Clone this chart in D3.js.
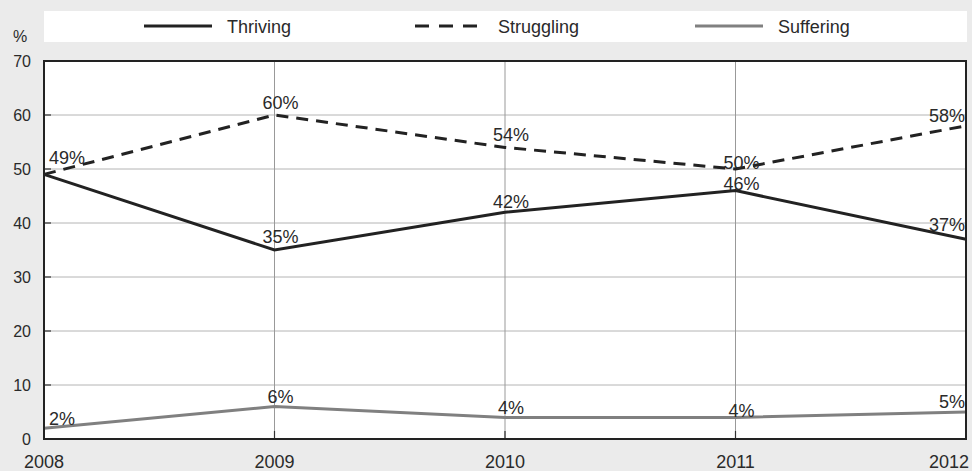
<!DOCTYPE html>
<html>
<head>
<meta charset="utf-8">
<script src="https://cdn.jsdelivr.net/npm/d3@7"></script>
<style>
  body { margin: 0; background: #ebebeb; }
  text { font-family: "Liberation Sans", Arial, sans-serif; fill: #2a2a2a; }
</style>
</head>
<body>
<div id="chart"></div>
<script>
// data
var years = ["2008", "2009", "2010", "2011", "2012"];
var thriving = [49, 35, 42, 46, 37];
var struggling = [49, 60, 54, 50, 58];
var suffering = [2, 6, 4, 4, 5];
var yTicks = [0, 10, 20, 30, 40, 50, 60, 70];

var svgWidth = 972, svgHeight = 471;
var margin = { top: 61, right: 6, bottom: 32, left: 44 };
var chartWidth = svgWidth - margin.left - margin.right;
var chartHeight = svgHeight - margin.top - margin.bottom;

var svg = d3.select("#chart").append("svg")
    .attr("width", svgWidth)
    .attr("height", svgHeight);

svg.append("rect").attr("width", svgWidth).attr("height", svgHeight).attr("fill", "#ebebeb");

var g = svg.append("g").attr("transform", `translate(${margin.left},${margin.top})`);

var x = d3.scalePoint().domain(years).range([0, chartWidth]);
var y = d3.scaleLinear().domain([0, 70]).range([chartHeight, 0]);

g.append("rect").attr("width", chartWidth).attr("height", chartHeight).attr("fill", "#fff");

// grid
g.selectAll(".hgrid").data(yTicks.slice(1, -1)).enter().append("line")
    .attr("x1", 0).attr("x2", chartWidth)
    .attr("y1", d => y(d)).attr("y2", d => y(d))
    .attr("stroke", "#b4b4b4").attr("stroke-width", 1);
g.selectAll(".vgrid").data(years.slice(1, -1)).enter().append("line")
    .attr("x1", d => x(d)).attr("x2", d => x(d))
    .attr("y1", 0).attr("y2", chartHeight)
    .attr("stroke", "#999").attr("stroke-width", 1);

// inner ticks
g.selectAll(".ytk").data(yTicks.slice(1, -1)).enter().append("line")
    .attr("x1", 0).attr("x2", 7)
    .attr("y1", d => y(d)).attr("y2", d => y(d))
    .attr("stroke", "#333").attr("stroke-width", 1.2);
g.selectAll(".xtk").data(years.slice(1, -1)).enter().append("line")
    .attr("x1", d => x(d)).attr("x2", d => x(d))
    .attr("y1", chartHeight).attr("y2", chartHeight - 8)
    .attr("stroke", "#333").attr("stroke-width", 1.2);

// axis labels
svg.selectAll(".ylab").data(yTicks).enter().append("text")
    .attr("x", 31).attr("y", d => margin.top + y(d) + 6)
    .attr("text-anchor", "end").attr("font-size", 16)
    .text(d => d);
svg.append("text").attr("x", 13).attr("y", 42).attr("font-size", 16).text("%");

svg.selectAll(".xlab").data(years).enter().append("text")
    .attr("x", d => margin.left + x(d)).attr("y", svgHeight - 3)
    .attr("text-anchor", (d, i) => i === years.length - 1 ? "end" : "middle")
    .attr("dx", (d, i) => i === years.length - 1 ? 3 : 0)
    .attr("font-size", 18)
    .text(d => d);

// lines
var series = [
  { name: "Thriving", values: thriving, color: "#222", dash: null, dy: [-10, -7, -4, -1, -8] },
  { name: "Struggling", values: struggling, color: "#222", dash: "12,8", dy: [-10, -6, -6, 0, -4] },
  { name: "Suffering", values: suffering, color: "#808080", dash: null, dy: [-3, -4, -3, 0, -4] }
];

var line = d3.line().x((d, i) => x(years[i])).y(d => y(d));
var last = years.length - 1;

series.forEach(function(s, si) {
  g.append("path").datum(s.values)
    .attr("d", line)
    .attr("fill", "none")
    .attr("stroke", s.color)
    .attr("stroke-width", 3)
    .attr("stroke-dasharray", s.dash);

  // first point of Struggling shares the Thriving label
  var labels = s.values.map((v, i) => ({ v: v, i: i }))
    .filter(d => !(si === 1 && d.i === 0));

  g.selectAll(null).data(labels).enter().append("text")
    .attr("x", d => x(years[d.i]))
    .attr("dx", d => d.i === 0 ? 5 : (d.i === last ? -1 : 6))
    .attr("y", d => y(d.v) + s.dy[d.i])
    .attr("text-anchor", d => d.i === 0 ? "start" : (d.i === last ? "end" : "middle"))
    .attr("font-size", 18)
    .text(d => d.v + "%");
});

// plot border
g.append("rect").attr("width", chartWidth).attr("height", chartHeight)
    .attr("fill", "none").attr("stroke", "#222").attr("stroke-width", 2);

// legend
svg.append("rect").attr("x", 44).attr("y", 11).attr("width", 923).attr("height", 31).attr("fill", "#fff");
var legendX = [144, 415, 695];
series.forEach(function(s, i) {
  svg.append("line")
    .attr("x1", legendX[i]).attr("x2", legendX[i] + 68)
    .attr("y1", 26).attr("y2", 26)
    .attr("stroke", s.color).attr("stroke-width", 3)
    .attr("stroke-dasharray", s.dash ? "14,10" : null);
  svg.append("text")
    .attr("x", legendX[i] + 83).attr("y", 33)
    .attr("font-size", 18)
    .text(s.name);
});
</script>
</body>
</html>
